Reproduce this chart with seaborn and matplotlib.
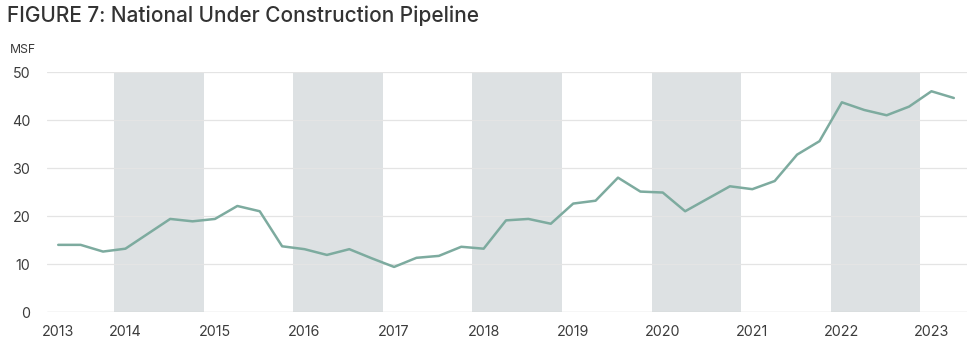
"""National under construction pipeline, quarterly MSF."""
import matplotlib
matplotlib.use("Agg")
import matplotlib.pyplot as plt
import seaborn as sns
import pandas as pd

# quarterly periods, 2013 Q2 .. 2023 Q2
quarters = [str(p) for p in pd.period_range("2013Q2", "2023Q2", freq="Q")]

# under construction pipeline (MSF)
msf = [
    14.0, 14.0, 12.6, 13.2,
    16.3, 19.4, 18.9, 19.4,
    22.1, 21.0, 13.7, 13.1,
    11.9, 13.1, 11.2, 9.4,
    11.3, 11.7, 13.6, 13.2,
    19.1, 19.4, 18.4, 22.6,
    23.2, 28.0, 25.1, 24.9,
    21.0, 23.6, 26.2, 25.6,
    27.3, 32.8, 35.6, 43.7,
    42.1, 41.0, 42.8, 46.0,
    44.6,
]

tick_years = ["2013", "2014", "2015", "2016", "2017", "2018",
              "2019", "2020", "2021", "2022", "2023"]
shaded_years = ["2014", "2016", "2018", "2020", "2022"]

TEXT = "#3c3c3c"
LINE = "#7dab9f"
BAND = "#dde1e3"
GRID = "#e4e4e4"


def first_index(year):
    # first quarter shown for a year
    return next(i for i, q in enumerate(quarters) if q.startswith(year))


def main():
    df = pd.DataFrame({"quarter": quarters, "msf": msf})
    df["pos"] = range(len(df))

    sns.set_theme(style="white")
    plt.rcParams["font.family"] = ["Inter", "DejaVu Sans"]

    fig = plt.figure(figsize=(9.8, 3.55), dpi=100)
    ax = fig.add_axes([0.048, 0.121, 0.939, 0.676])

    # alternating year bands
    for y in shaded_years:
        start = first_index(y)
        end = start + sum(q.startswith(y) for q in quarters)
        ax.axvspan(start - 0.5, end - 0.5, color=BAND, lw=0, zorder=0)

    for v in [10, 20, 30, 40, 50]:
        ax.axhline(v, color=GRID, lw=0.9, zorder=1)
    ax.axhline(0, color="#d2d2d2", lw=1.0, zorder=1)

    sns.lineplot(data=df, x="pos", y="msf", color=LINE, lw=1.8, ax=ax, zorder=3)

    ax.set_xlim(-0.5, 40.6)
    ax.set_ylim(0, 50)
    ax.set_yticks([0, 10, 20, 30, 40, 50])
    ticks = [first_index(y) for y in tick_years]
    ax.set_xticks(ticks)
    ax.set_xticklabels(tick_years)
    ax.tick_params(axis="both", length=0, labelsize=10.3, colors=TEXT)
    ax.tick_params(axis="y", pad=12)
    ax.tick_params(axis="x", pad=9)
    ax.set_xlabel("")
    ax.set_ylabel("")
    sns.despine(ax=ax, left=True, bottom=True)

    fig.text(0.010, 0.858, "MSF", fontsize=8.8, color=TEXT, va="center", ha="left")
    fig.text(0.007, 0.955, "FIGURE 7: National Under Construction Pipeline",
             fontsize=15, fontweight="medium", color="#333333",
             va="center", ha="left")

    fig.savefig("out.png", dpi=100)


if __name__ == "__main__":
    main()
